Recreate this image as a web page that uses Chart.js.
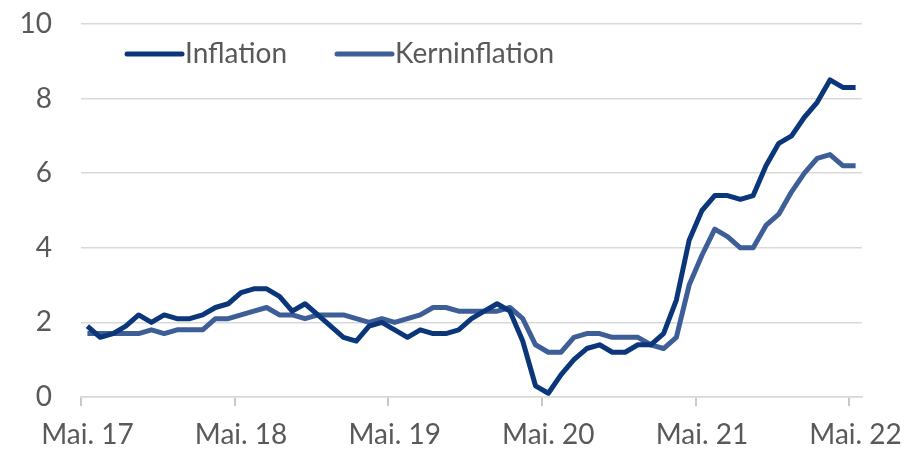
<!DOCTYPE html>
<html>
<head>
<meta charset="utf-8">
<script src="https://cdn.jsdelivr.net/npm/chart.js@4/dist/chart.umd.min.js"></script>
<style>
  html, body { margin: 0; padding: 0; background: #fff; }
  #wrap { width: 907px; height: 450px; position: relative; }
</style>
</head>
<body>
<div id="wrap"><canvas id="inflChart"></canvas></div>
<script>
// monthly, Mai 2017 .. Mai 2022
var months = ['Jan', 'Feb', 'Mrz', 'Apr', 'Mai', 'Jun', 'Jul', 'Aug', 'Sep', 'Okt', 'Nov', 'Dez'];
var labels = [];
for (var i = 0; i < 61; i++) {
    var m = (4 + i) % 12;
    var y = 17 + Math.floor((4 + i) / 12);
    labels.push(months[m] + '. ' + y);
}

var inflation = [
    1.9, 1.6, 1.7, 1.9, 2.2, 2.0, 2.2, 2.1,
    2.1, 2.2, 2.4, 2.5, 2.8, 2.9, 2.9, 2.7, 2.3, 2.5, 2.2, 1.9,
    1.6, 1.5, 1.9, 2.0, 1.8, 1.6, 1.8, 1.7, 1.7, 1.8, 2.1, 2.3,
    2.5, 2.3, 1.5, 0.3, 0.1, 0.6, 1.0, 1.3, 1.4, 1.2, 1.2, 1.4,
    1.4, 1.7, 2.6, 4.2, 5.0, 5.4, 5.4, 5.3, 5.4, 6.2, 6.8, 7.0,
    7.5, 7.9, 8.5, 8.3, 8.3
];
var kerninflation = [
    1.7, 1.7, 1.7, 1.7, 1.7, 1.8, 1.7, 1.8,
    1.8, 1.8, 2.1, 2.1, 2.2, 2.3, 2.4, 2.2, 2.2, 2.1, 2.2, 2.2,
    2.2, 2.1, 2.0, 2.1, 2.0, 2.1, 2.2, 2.4, 2.4, 2.3, 2.3, 2.3,
    2.3, 2.4, 2.1, 1.4, 1.2, 1.2, 1.6, 1.7, 1.7, 1.6, 1.6, 1.6,
    1.4, 1.3, 1.6, 3.0, 3.8, 4.5, 4.3, 4.0, 4.0, 4.6, 4.9, 5.5,
    6.0, 6.4, 6.5, 6.2, 6.2
];
var yTicks = [0, 2, 4, 6, 8, 10];

var FONT = 'Lato, "Noto Sans", sans-serif';
var GRAY = '#595959';
var GRID = '#d9d9d9';

// legend inside the plot area, drawn by hand
var legendInside = {
    id: 'legendInside',
    afterDraw: function(chart) {
        var ctx = chart.ctx;
        var pos = [127, 337];
        ctx.save();
        ctx.font = '28px ' + FONT;
        ctx.textBaseline = 'middle';
        chart.data.datasets.forEach(function(ds, k) {
            var x = pos[k];
            ctx.strokeStyle = ds.borderColor;
            ctx.lineWidth = 5;
            ctx.lineCap = 'round';
            ctx.beginPath();
            ctx.moveTo(x, 54);
            ctx.lineTo(x + 55, 54);
            ctx.stroke();
            ctx.fillStyle = GRAY;
            ctx.fillText(ds.label, x + 58, 54);
        });
        ctx.restore();
    }
};

var ctx = document.getElementById('inflChart').getContext('2d');
var chart = new Chart(ctx, {
    type: 'line',
    data: {
        labels: labels,
        datasets: [{
            label: 'Inflation',
            data: inflation,
            borderColor: '#0b3679',
            borderWidth: 5,
            pointRadius: 0,
            tension: 0,
            borderJoinStyle: 'round'
        }, {
            label: 'Kerninflation',
            data: kerninflation,
            borderColor: '#3d5e96',
            borderWidth: 5,
            pointRadius: 0,
            tension: 0,
            borderJoinStyle: 'round'
        }]
    },
    options: {
        responsive: true,
        maintainAspectRatio: false,
        animation: false,
        layout: { padding: { top: 24, right: 45, left: 0, bottom: 0 } },
        plugins: {
            legend: { display: false },
            tooltip: { enabled: false }
        },
        scales: {
            x: {
                offset: true,
                grid: {
                    offset: true,
                    drawOnChartArea: false,
                    tickLength: 9,
                    lineWidth: 2,
                    color: function(c) {
                        return (c.index % 12 === 0) ? '#c8c8c8' : 'rgba(0,0,0,0)';
                    }
                },
                border: { display: true, color: GRID, width: 1.5 },
                ticks: {
                    autoSkip: false,
                    maxRotation: 0,
                    color: GRAY,
                    font: { family: FONT, size: 28 },
                    padding: 12,
                    callback: function(v, i) {
                        return (i % 12 === 0) ? this.getLabelForValue(v) : '';
                    }
                },
                afterFit: function(s) {
                    s.height = 53;
                    s.paddingLeft = 0;
                    s.paddingRight = 0;
                }
            },
            y: {
                min: 0,
                max: 10,
                afterBuildTicks: function(s) {
                    s.ticks = yTicks.map(function(v) { return { value: v }; });
                },
                grid: {
                    color: GRID,
                    lineWidth: 1.5,
                    tickLength: 29,
                    tickColor: 'rgba(0,0,0,0)'
                },
                border: { display: false },
                ticks: {
                    color: GRAY,
                    font: { family: FONT, size: 28 },
                    padding: 0
                },
                afterFit: function(s) { s.width = 81; }
            }
        }
    },
    plugins: [legendInside]
});
</script>
</body>
</html>
